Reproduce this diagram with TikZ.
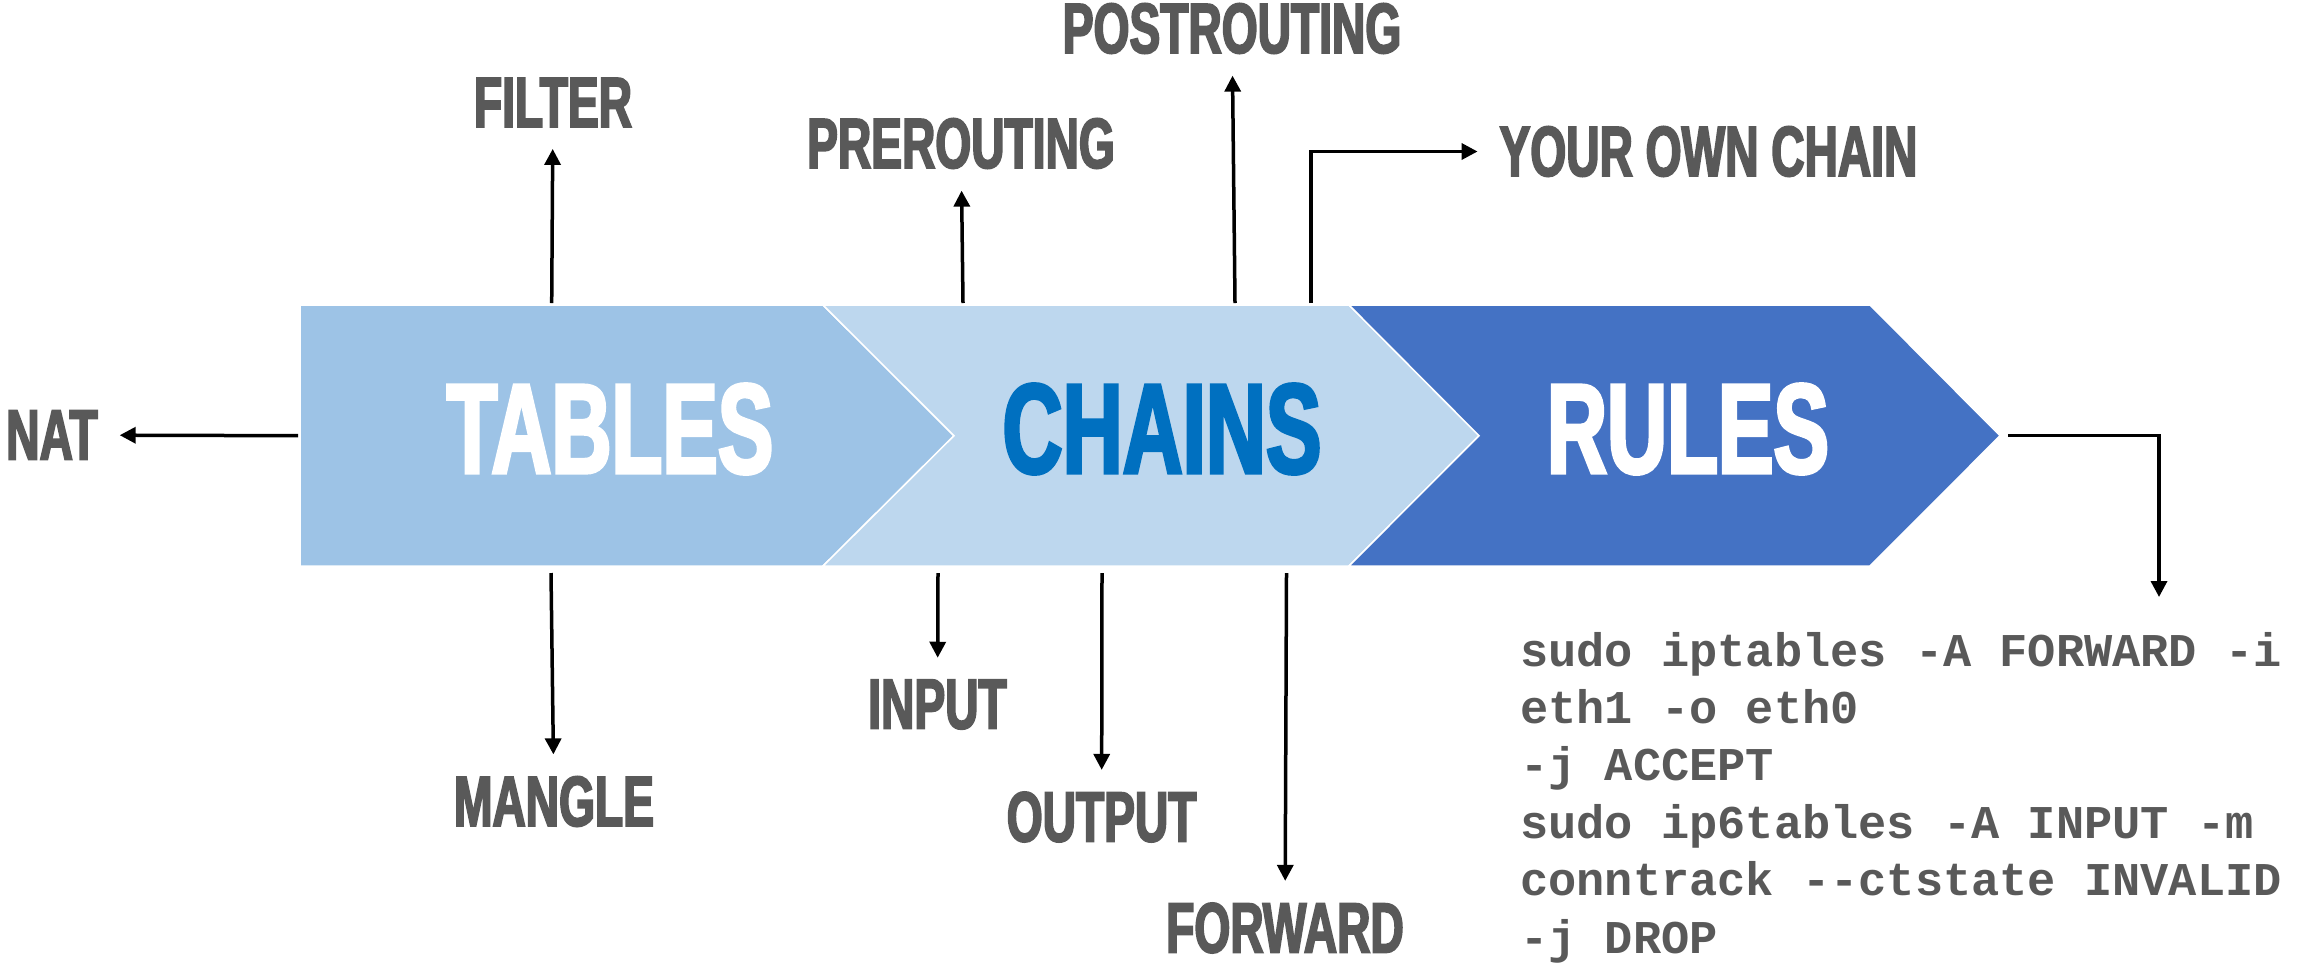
\documentclass[tikz,border=0pt]{standalone}
\usepackage{fontspec}
\usetikzlibrary{arrows.meta}
\newfontfamily\heavyfont{Liberation Sans}[UprightFont=* Bold, FakeStretch=0.65, FakeBold=2.5]
\newfontfamily\codefont{Liberation Mono}[UprightFont=* Bold]
\definecolor{tablesblue}{HTML}{9DC3E6}
\definecolor{chainsblue}{HTML}{BDD7EE}
\definecolor{rulesblue}{HTML}{4472C4}
\definecolor{chainstext}{HTML}{0070C0}
\definecolor{labelgrey}{HTML}{595959}

\begin{document}
\begin{tikzpicture}[x=1pt, y=-1pt,
  band/.style={draw=white, line width=1.5pt, line join=miter},
  bigword/.style={inner sep=0pt, font=\heavyfont\fontsize{128}{128}\selectfont},
  tag/.style={inner sep=0pt, outer sep=22pt, text=labelgrey,
              font=\heavyfont\fontsize{71}{71}\selectfont},
  arr/.style={line width=3.5pt, -{Triangle[length=16pt,width=16pt]}},
]
\useasboundingbox (0,0) rectangle (2298,962);

% the three chevrons
\path[band, fill=tablesblue] (300,305) -- (823,305) -- (954,435.7) -- (823,566) -- (300,566) -- cycle;
\path[band, fill=chainsblue] (823,305) -- (1349,305) -- (1479,435.7) -- (1349,566) -- (823,566) -- (954,435.7) -- cycle;
\path[band, fill=rulesblue]  (1349,305) -- (1870,305) -- (2000,435.7) -- (1870,566) -- (1349,566) -- (1479,435.7) -- cycle;

\node[bigword, text=white]      (tables) at (610,429)  {TABLES};
\node[bigword, text=chainstext] (chains) at (1162,429) {CHAINS};
\node[bigword, text=white]      (rules)  at (1688,429) {RULES};

% labels around the band
\node[tag] (nat)    at (52,435)      {NAT};
\node[tag] (filter) at (553,102.5)   {FILTER};
\node[tag] (mangle) at (554,801.5)   {MANGLE};
\node[tag] (pre)    at (961,143.5)   {PREROUTING};
\node[tag] (post)   at (1232,28.5)   {POSTROUTING};
\node[tag] (own)    at (1708.5,151.5){YOUR OWN CHAIN};
\node[tag] (input)  at (937.5,704.5) {INPUT};
\node[tag] (output) at (1101.6,817)  {OUTPUT};
\node[tag] (fwd)    at (1285,928)    {FORWARD};

% example rules (base anchor sits on the last line)
\node[anchor=base west, inner sep=0pt, align=left, text=labelgrey,
      font=\codefont\fontsize{47}{57.4}\selectfont] (code) at (1520,953)
  {sudo iptables -A FORWARD -i\\
   eth1 -o eth0\\
   -j ACCEPT\\
   sudo ip6tables -A INPUT -m\\
   conntrack -{}-ctstate INVALID\\
   -j DROP};

% arrow feet on the band edges
\coordinate (natfoot)    at (298,435.7);
\coordinate (filterfoot) at (551.7,303);
\coordinate (manglefoot) at (551,573);
\coordinate (prefoot)    at (963,303);
\coordinate (postfoot)   at (1235,303);
\coordinate (ownfoot)    at (1311,303);
\coordinate (inputfoot)  at (938,573);
\coordinate (outputfoot) at (1102,573);
\coordinate (fwdfoot)    at (1286.5,573);
\coordinate (rulesfoot)  at (2008,435.7);
\coordinate (codetip)    at (2159,597);

\draw[arr] (natfoot)    -- (nat);
\draw[arr] (filterfoot) -- (filter);
\draw[arr] (manglefoot) -- (mangle);
\draw[arr] (prefoot)    -- (pre);
\draw[arr] (postfoot)   -- (post);
\draw[arr] (ownfoot)    |- (own);
\draw[arr] (inputfoot)  -- (input);
\draw[arr] (outputfoot) -- (output);
\draw[arr] (fwdfoot)    -- (fwd);
\draw[arr] (rulesfoot)  -| (codetip);
\end{tikzpicture}
\end{document}
